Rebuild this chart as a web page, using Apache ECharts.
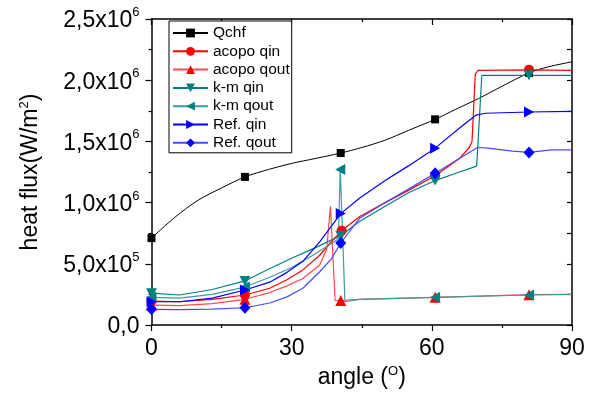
<!DOCTYPE html>
<html>
<head>
<meta charset="utf-8">
<script src="https://cdn.jsdelivr.net/npm/echarts@6/dist/echarts.min.js"></script>
<style>
html,body{margin:0;padding:0;background:#fff;}
#chart{width:597px;height:399px;}
</style>
</head>
<body>
<div id="chart"></div>
<script>
// ---- data (angle in degrees, heat flux in W/m^2) ----
const qchfX = [0, 5, 10, 15, 20, 25, 30, 35, 40.5, 45, 50, 55, 60.7, 65, 70, 75, 80.8, 85, 90];
const qchfY = [7.1e5, 8.8e5, 1.02e6, 1.12e6, 1.21e6, 1.27e6, 1.32e6, 1.36e6, 1.405e6, 1.45e6, 1.51e6, 1.59e6, 1.68e6, 1.76e6, 1.85e6, 1.95e6, 2.06e6, 2.11e6, 2.15e6];
const qchfMarks = [0, 20, 40.5, 60.7, 80.8];

const acopoQinX = [0, 6, 13, 20, 25.3, 29, 32.4, 36, 38.5, 40.7, 44.5, 50, 55, 60.7, 65.9, 68, 68.6, 69.3, 69.9, 80.8, 90];
const acopoQinY = [1.96e5, 1.9e5, 2.1e5, 2.45e5, 3.0e5, 3.7e5, 4.5e5, 5.7e5, 6.8e5, 7.7e5, 8.85e5, 1.0e6, 1.1e6, 1.22e6, 1.36e6, 1.45e6, 1.5e6, 2.05e6, 2.08e6, 2.085e6, 2.08e6];
const acopoQinMarks = [0, 20, 40.7, 60.7, 80.8];

const acopoQoutX = [0, 6, 13, 20, 25.3, 29, 32.4, 36, 37.5, 38.3, 39.3, 40.5, 44.5, 60.7, 80.8, 90];
const acopoQoutY = [1.63e5, 1.58e5, 1.75e5, 2.1e5, 2.65e5, 3.2e5, 3.8e5, 4.9e5, 6.2e5, 9.7e5, 2.0e5, 2.0e5, 2.1e5, 2.26e5, 2.48e5, 2.5e5];
const acopoQoutMarks = [0, 20, 40.5, 60.7, 80.8];

const kmQinX = [0, 6, 13, 20, 25, 30, 35, 40.5, 44.5, 50, 55, 60.7, 65.9, 69, 69.6, 70.7, 80.8, 90];
const kmQinY = [2.6e5, 2.45e5, 2.9e5, 3.6e5, 4.55e5, 5.45e5, 6.3e5, 7.3e5, 8.45e5, 9.7e5, 1.08e6, 1.18e6, 1.25e6, 1.29e6, 1.3e6, 2.04e6, 2.04e6, 2.04e6];
const kmQinMarks = [0, 20, 40.5, 60.7, 80.8];

const kmQoutX = [0, 6, 13, 20, 25.3, 30, 35, 39.5, 40.0, 40.4, 41.4, 44.5, 60.7, 80.8, 90];
const kmQoutY = [2.26e5, 2.2e5, 2.5e5, 3.1e5, 3.9e5, 4.7e5, 5.8e5, 6.9e5, 7.1e5, 1.27e6, 1.9e5, 2.1e5, 2.26e5, 2.45e5, 2.5e5];
const kmQoutMarks = [0, 20, 40.4, 60.7, 80.8];

const refQinX = [0, 6, 13, 20, 25.3, 29, 32.4, 36, 40.5, 44.5, 50, 55, 60.7, 66.6, 69.5, 71.5, 80.8, 90];
const refQinY = [1.9e5, 1.9e5, 2.2e5, 2.86e5, 3.5e5, 4.3e5, 5.2e5, 6.8e5, 9.1e5, 1.035e6, 1.18e6, 1.3e6, 1.445e6, 1.63e6, 1.715e6, 1.73e6, 1.74e6, 1.745e6];
const refQinMarks = [0, 20, 40.5, 60.7, 80.8];

const refQoutX = [0, 6, 13, 20, 25.3, 29, 32.4, 36, 38.5, 40.5, 44.5, 50, 55, 60.7, 65.9, 68, 69.8, 72, 77.3, 80.8, 85.6, 90];
const refQoutY = [1.28e5, 1.25e5, 1.3e5, 1.41e5, 1.8e5, 2.3e5, 3.0e5, 4.35e5, 5.4e5, 6.7e5, 8.7e5, 1.0e6, 1.11e6, 1.24e6, 1.36e6, 1.41e6, 1.45e6, 1.445e6, 1.42e6, 1.41e6, 1.43e6, 1.43e6];
const refQoutMarks = [0, 20, 40.5, 60.7, 80.8];

const xTicks = [0, 30, 60, 90];
const yTickValues = [0, 500000, 1000000, 1500000, 2000000, 2500000];
const yTickMant = ['0,0', '5,0x10', '1,0x10', '1,5x10', '2,0x10', '2,5x10'];
const yTickExp = ['', '5', '6', '6', '6', '6'];

const FONT = 'Liberation Sans, Arial, sans-serif';

function build(xs, ys, marks) {
  return xs.map((x, i) => marks.indexOf(x) >= 0 ? { value: [x, ys[i]] } : { value: [x, ys[i]], symbol: 'none' });
}

function mkSeries(name, xs, ys, marks, symbol, size, color, lineColor, width, smooth) {
  return {
    name: name, type: 'line', xAxisIndex: 0, yAxisIndex: 0,
    data: build(xs, ys, marks),
    symbol: symbol, symbolSize: size, showAllSymbol: true,
    smooth: smooth || false,
    itemStyle: { color: color },
    lineStyle: { color: lineColor, width: width },
    emphasis: { disabled: true },
    animation: false, clip: false
  };
}

const DOWN = 'path://M0,0 L10,0 L5,9 Z';
const LEFT = 'path://M9,0 L9,10 L0,5 Z';
const RIGHT = 'path://M0,0 L0,10 L9,5 Z';

const series = [
  mkSeries('Qchf', qchfX, qchfY, qchfMarks, 'rect', 8, '#000', '#000', 1, 0.3),
  mkSeries('acopo qin', acopoQinX, acopoQinY, acopoQinMarks, 'circle', 10, '#ff0000', '#ff0000', 1.2),
  mkSeries('acopo qout', acopoQoutX, acopoQoutY, acopoQoutMarks, 'triangle', 11, '#ff0000', '#ff4a4a', 1.2),
  mkSeries('k-m qin', kmQinX, kmQinY, kmQinMarks, DOWN, [11, 10], '#008080', '#008080', 1.2),
  mkSeries('k-m qout', kmQoutX, kmQoutY, kmQoutMarks, LEFT, [10, 11], '#008080', '#3d9c9c', 1.2),
  mkSeries('Ref. qin', refQinX, refQinY, refQinMarks, RIGHT, [10, 11], '#0000ff', '#0000ff', 1.2),
  mkSeries('Ref. qout', refQoutX, refQoutY, refQoutMarks, 'diamond', [11, 12], '#0000ff', '#4a4aff', 1.2)
];

const axisLineStyle = { color: '#000', width: 1.5 };

const chart = echarts.init(document.getElementById('chart'), null, { renderer: 'canvas' });
chart.setOption({
  backgroundColor: '#fff',
  animation: false,
  grid: { left: 151.5, right: 25, top: 19, bottom: 74, containLabel: false },
  legend: {
    orient: 'vertical', left: 169, top: 21,
    data: series.map(s => s.name),
    itemWidth: 35, itemHeight: 11, itemGap: 2.3,
    padding: [4, 2, 2, 3],
    borderColor: '#000', borderWidth: 1, borderRadius: 0,
    backgroundColor: '#fff',
    textStyle: { fontFamily: FONT, fontSize: 15.5, color: '#000', lineHeight: 15 },
    selectedMode: false
  },
  xAxis: [{
    type: 'value', min: 0, max: 90, interval: 30, position: 'bottom',
    axisLine: { show: true, onZero: false, lineStyle: axisLineStyle },
    axisTick: { show: true, inside: false, length: 6, lineStyle: { color: '#000', width: 1.2 } },
    minorTick: { show: true, splitNumber: 2, length: 3, lineStyle: { color: '#000', width: 1.2 } },
    splitLine: { show: false },
    axisLabel: { show: true, margin: 12, fontFamily: FONT, fontSize: 23, color: '#000',
      formatter: v => xTicks.indexOf(v) >= 0 ? String(v) : '' },
    name: '{t|angle (}{s|O}{t|)}', nameLocation: 'middle', nameGap: 37,
    nameTextStyle: { rich: {
      t: { fontFamily: FONT, fontSize: 23, color: '#000', lineHeight: 26 },
      s: { fontFamily: FONT, fontSize: 13, color: '#000', verticalAlign: 'top', lineHeight: 13 }
    } }
  }, {
    type: 'value', min: 0, max: 90, interval: 30, position: 'top',
    axisLine: { show: true, onZero: false, lineStyle: axisLineStyle },
    axisTick: { show: true, inside: true, length: 6, lineStyle: { color: '#000', width: 1.2 } },
    minorTick: { show: true, splitNumber: 2, length: 3, lineStyle: { color: '#000', width: 1.2 } },
    splitLine: { show: false }, axisLabel: { show: false }
  }],
  yAxis: [{
    type: 'value', min: 0, max: 2500000, interval: 500000, position: 'left',
    axisLine: { show: true, onZero: false, lineStyle: axisLineStyle },
    axisTick: { show: true, inside: false, length: 6, lineStyle: { color: '#000', width: 1.2 } },
    minorTick: { show: true, splitNumber: 2, length: 3, lineStyle: { color: '#000', width: 1.2 } },
    splitLine: { show: false },
    axisLabel: { show: true, margin: 12,
      formatter: v => {
        const i = yTickValues.indexOf(v);
        if (i < 0) return '';
        return yTickExp[i] ? '{m|' + yTickMant[i] + '}{e|' + yTickExp[i] + '}' : '{m|' + yTickMant[i] + '}';
      },
      rich: {
        m: { fontFamily: FONT, fontSize: 23, color: '#000', lineHeight: 26, padding: [4, 0, 0, 0] },
        e: { fontFamily: FONT, fontSize: 13, color: '#000', verticalAlign: 'top', lineHeight: 13 }
      }
    },
    name: '{t|heat flux(W/m}{s|2}{t|)}', nameLocation: 'middle', nameGap: 108, nameRotate: 90,
    nameTextStyle: { rich: {
      t: { fontFamily: FONT, fontSize: 23, color: '#000', lineHeight: 26 },
      s: { fontFamily: FONT, fontSize: 13, color: '#000', verticalAlign: 'top', lineHeight: 13 }
    } }
  }, {
    type: 'value', min: 0, max: 2500000, interval: 500000, position: 'right',
    axisLine: { show: true, onZero: false, lineStyle: axisLineStyle },
    axisTick: { show: true, inside: true, length: 5, lineStyle: { color: '#000', width: 1.2 } },
    minorTick: { show: true, splitNumber: 2, length: 5, lineStyle: { color: '#000', width: 1.2 } },
    splitLine: { show: false }, axisLabel: { show: false }
  }],
  series: series
});
</script>
</body>
</html>
